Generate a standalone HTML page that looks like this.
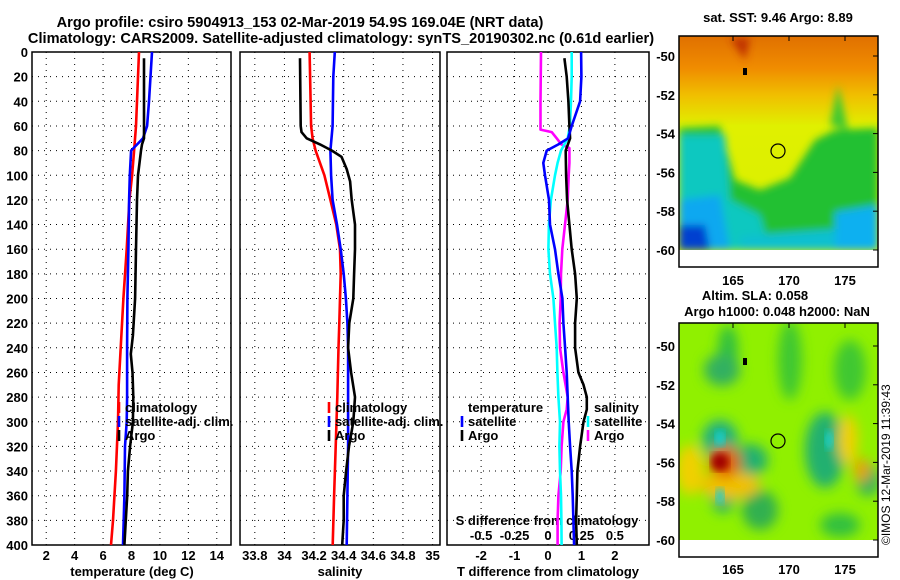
<!DOCTYPE html>
<html><head><meta charset="utf-8">
<style>
html,body{margin:0;padding:0;background:#fff;}
svg{display:block;font-family:"Liberation Sans",sans-serif;font-weight:bold;}
</style></head>
<body>
<svg id="c" width="900" height="580" viewBox="0 0 900 580" xmlns="http://www.w3.org/2000/svg">
<defs>
<filter id="blur4"><feGaussianBlur stdDeviation="4"/></filter>
<filter id="blur6"><feGaussianBlur stdDeviation="6"/></filter>
<clipPath id="clip1"><rect x="679" y="36" width="199" height="214"/></clipPath>
<clipPath id="clip2"><rect x="679" y="323" width="199" height="217"/></clipPath>
<linearGradient id="sstTop" x1="0" y1="0" x2="0" y2="1">
<stop offset="0" stop-color="#e07000"/><stop offset="0.15" stop-color="#f08c00"/><stop offset="0.28" stop-color="#f0c000"/><stop offset="0.42" stop-color="#e0f000"/><stop offset="1" stop-color="#d8f000"/>
</linearGradient>
</defs>
<text x="300" y="27" font-size="14.6" text-anchor="middle">Argo profile: csiro 5904913_153 02-Mar-2019 54.9S 169.04E (NRT data)</text>
<text x="341" y="43" font-size="14.6" text-anchor="middle">Climatology: CARS2009. Satellite-adjusted climatology: synTS_20190302.nc (0.61d earlier)</text>

<!-- SST map -->
<g clip-path="url(#clip1)">
<rect x="679" y="36" width="199" height="214" fill="url(#sstTop)"/>
<g filter="url(#blur4)">
<path d="M679,128 L720,126 L735,180 L760,190 L790,178 L815,140 L835,130 L878,128 L878,250 L679,250Z" fill="#20c030"/>
<path d="M830,125 L838,85 L848,130Z" fill="#40c830"/>
<path d="M679,135 L725,135 L730,200 L760,215 L770,250 L679,250Z" fill="#10c8c0"/>
<path d="M679,200 L720,195 L730,250 L679,250Z" fill="#10a8f0"/>
<path d="M679,225 L705,225 L710,250 L679,250Z" fill="#0040d0"/>
<path d="M740,236 L878,226 L878,250 L740,250Z" fill="#10c0d0"/>
<path d="M835,212 L878,205 L878,250 L835,250Z" fill="#10b0f0"/>
<path d="M730,38 L750,38 L745,60Z" fill="#c03000"/>
</g>
</g>
<rect x="679" y="36" width="199" height="231" fill="none" stroke="#000" stroke-width="1.5"/>
<circle cx="778" cy="151" r="7" fill="none" stroke="#000" stroke-width="1.2"/>
<rect x="743" y="68" width="4" height="7" fill="#000"/>
<text x="778" y="22" font-size="13" text-anchor="middle">sat. SST: 9.46 Argo: 8.89</text>

<!-- SLA map -->
<g clip-path="url(#clip2)">
<rect x="679" y="323" width="199" height="217" fill="#90f000"/>
<g filter="url(#blur6)">
<ellipse cx="728" cy="350" rx="10" ry="25" fill="#30c040"/>
<ellipse cx="722" cy="370" rx="18" ry="16" fill="#30b060"/>
<ellipse cx="790" cy="360" rx="12" ry="40" fill="#40c830"/>
<ellipse cx="850" cy="370" rx="16" ry="30" fill="#40c830"/>
<ellipse cx="720" cy="440" rx="18" ry="20" fill="#20b080"/>
<ellipse cx="750" cy="460" rx="18" ry="16" fill="#20b070"/>
<ellipse cx="825" cy="450" rx="20" ry="38" fill="#20b070"/>
<ellipse cx="868" cy="480" rx="12" ry="16" fill="#30b060"/>
<ellipse cx="723" cy="495" rx="12" ry="18" fill="#20b070"/>
<ellipse cx="760" cy="510" rx="18" ry="20" fill="#30b050"/>
<ellipse cx="840" cy="525" rx="20" ry="12" fill="#30c040"/>
<ellipse cx="690" cy="470" rx="14" ry="25" fill="#f0d000"/>
<ellipse cx="730" cy="485" rx="30" ry="14" fill="#f0c000"/>
<ellipse cx="848" cy="440" rx="10" ry="25" fill="#f0d000"/>
<ellipse cx="862" cy="470" rx="8" ry="12" fill="#e8a000"/>
<ellipse cx="725" cy="462" rx="16" ry="16" fill="#e06000"/>
</g>
<ellipse cx="720" cy="462" rx="9" ry="9" fill="#a00000" filter="url(#blur4)"/>
<ellipse cx="720" cy="438" rx="5" ry="8" fill="#10d0d0" filter="url(#blur4)"/>
<ellipse cx="829" cy="440" rx="4" ry="10" fill="#10d0d0" filter="url(#blur4)"/>
<ellipse cx="720" cy="496" rx="4" ry="8" fill="#10d0d0" filter="url(#blur4)"/>
</g>
<rect x="679" y="323" width="199" height="234" fill="none" stroke="#000" stroke-width="1.5"/>
<circle cx="778" cy="441" r="7" fill="none" stroke="#000" stroke-width="1.2"/>
<rect x="743" y="358" width="4" height="7" fill="#000"/>
<text x="755" y="300" font-size="13" text-anchor="middle">Altim. SLA: 0.058</text>
<text x="777" y="316" font-size="13" text-anchor="middle">Argo h1000: 0.048 h2000: NaN</text>
<text transform="translate(890,545) rotate(-90)" font-size="12" font-weight="normal">©IMOS 12-Mar-2019 11:39:43</text>
</svg>
<script>
// ---- chart data ----
const depthTicks = [0,20,40,60,80,100,120,140,160,180,200,220,240,260,280,300,320,340,360,380,400];
const tempTicks = [2,4,6,8,10,12,14];
const salTicks = [33.8,34,34.2,34.4,34.6,34.8,35];
const salTickLabels = ["33.8","34","34.2","34.4","34.6","34.8","35"];
const tdiffTicks = [-2,-1,0,1,2];
const sdiffTicks = [-0.5,-0.25,0,0.25,0.5];
const sdiffTickLabels = ["-0.5","-0.25","0","0.25","0.5"];

const tClimDepth = [0,60,80,100,120,160,200,240,270,300,340,380,400];
const tClim      = [8.53,8.32,8.18,8.04,7.85,7.66,7.43,7.24,7.1,7.05,6.9,6.7,6.56];
const tSatDepth = [0,20,40,60,70,80,100,120,160,200,240,280,300,320,360,400];
const tSat      = [9.44,9.34,9.23,9.1,8.81,7.97,7.88,7.83,7.78,7.71,7.69,7.69,7.66,7.54,7.5,7.4];
const tArgoDepth = [5,60,70,75,80,100,120,160,200,230,245,260,280,300,320,340,360,380,400];
const tArgo      = [8.88,8.88,8.88,8.74,8.67,8.46,8.39,8.32,8.25,8.1,7.95,8.07,8.13,8.1,7.9,7.75,7.7,7.6,7.5];

const sClimDepth = [0,60,70,80,100,120,140,160,180,200,220,240,280,320,360,400];
const sClim      = [34.17,34.18,34.19,34.21,34.27,34.31,34.35,34.375,34.38,34.375,34.37,34.365,34.357,34.346,34.335,34.326];
const sSatDepth = [0,20,60,80,100,120,140,160,180,200,220,240,280,320,400];
const sSat      = [34.34,34.33,34.325,34.31,34.315,34.325,34.355,34.38,34.4,34.415,34.425,34.43,34.43,34.43,34.42];
const sArgoDepth = [5,60,65,70,75,80,85,95,105,120,140,160,180,200,220,240,260,280,300,320,340,360,380,400];
const sArgo      = [34.105,34.11,34.115,34.15,34.24,34.32,34.385,34.42,34.443,34.454,34.476,34.476,34.47,34.465,34.438,34.43,34.45,34.476,34.465,34.436,34.416,34.4,34.4,34.39];

const dTSatDepth = [0,20,40,60,70,75,80,90,100,120,140,160,180,200,220,240,260,280,300,320,340,360,380,400];
const dTSat      = [0.99,1.0,0.96,0.71,0.6,0.31,-0.04,-0.14,-0.09,0.03,0.06,0.21,0.31,0.43,0.46,0.51,0.56,0.59,0.62,0.66,0.71,0.74,0.76,0.78];
const dTArgoDepth = [5,20,40,60,70,80,100,120,140,160,180,200,220,240,260,270,280,290,300,320,340,360,380,400];
const dTArgo      = [0.49,0.56,0.61,0.64,0.66,0.53,0.54,0.57,0.64,0.71,0.81,0.86,0.81,0.81,0.91,1.06,1.16,1.16,1.06,0.96,0.88,0.86,0.84,0.86];
const dSArgoDepth = [0,40,63,65,70,75,78,90,100,120,140,160,180,200,220,240,260,280,290,300,320,340,360,380,400];
const dSArgo      = [-0.052,-0.056,-0.056,0.028,0.065,0.1,0.16,0.16,0.155,0.147,0.127,0.107,0.097,0.095,0.087,0.09,0.115,0.147,0.14,0.115,0.102,0.095,0.078,0.072,0.072];
const dSSatDepth = [0,20,40,60,70,80,90,100,120,140,160,180,200,220,240,260,280,300,320,340,360,380,400];
const dSSat      = [0.177,0.177,0.172,0.164,0.147,0.097,0.072,0.052,0.022,0.007,0.003,0.015,0.04,0.052,0.065,0.07,0.078,0.09,0.085,0.09,0.097,0.1,0.102];

const mapLatTicks = [-50,-52,-54,-56,-58,-60];
const mapLonTicks = [165,170,175];

// ---- drawing ----
const svg = document.getElementById('c');
const NS = 'http://www.w3.org/2000/svg';
function el(tag, attrs, parent){ const e=document.createElementNS(NS,tag); for(const k in attrs) e.setAttribute(k,attrs[k]); (parent||svg).appendChild(e); return e; }
const top0=52, bot=545;
const yD = d => top0 + d*(bot-top0)/400;
function lin(d0,d1,r0,r1){ return v => r0 + (v-d0)*(r1-r0)/(d1-d0); }

const panels = [
  {name:'temperature', x0:32, x1:231, dom:[1,15]},
  {name:'salinity', x0:240, x1:440, dom:[33.7,35.05]},
  {name:'difference', x0:447, x1:649, dom:[-3.02,3.02]}
];
panels.forEach(p=>{ p.sx = lin(p.dom[0],p.dom[1],p.x0,p.x1); });
const sxS = lin(-0.755,0.755,447,649);

function grid(p, ticks){
  depthTicks.forEach(d=>{
    if(d===0||d===400) return;
    const g=el('line',{x1:p.x0,x2:p.x1,y1:yD(d),y2:yD(d),stroke:'#000','stroke-width':1,'stroke-dasharray':'1,5'});
    
    
  });
  ticks.forEach(t=>{
    const x=p.sx(t);
    const g=el('line',{x1:x,x2:x,y1:top0,y2:bot,stroke:'#000','stroke-width':1,'stroke-dasharray':'1,5'});
    
    
  });
  const f=el('rect',{x:p.x0,y:top0,width:p.x1-p.x0,height:bot-top0,fill:'none',stroke:'#000','stroke-width':1.5});
  
  
}
grid(panels[0], tempTicks);
grid(panels[1], salTicks);
grid(panels[2], tdiffTicks);

depthTicks.forEach(d=>{
  const t=el('text',{x:28,y:yD(d)+5,'font-size':13,'text-anchor':'end'});
  t.textContent=d;
  
  
});
tempTicks.forEach(v=>{
  const t=el('text',{x:panels[0].sx(v),y:560,'font-size':13,'text-anchor':'middle'});
  t.textContent=v;
  
  
});
salTicks.forEach((v,i)=>{
  const t=el('text',{x:panels[1].sx(v),y:560,'font-size':13,'text-anchor':'middle'});
  t.textContent=salTickLabels[i];
  
  
});
tdiffTicks.forEach(v=>{
  const t=el('text',{x:panels[2].sx(v),y:560,'font-size':13,'text-anchor':'middle'});
  t.textContent=v;
  
  
});
sdiffTicks.forEach((v,i)=>{
  const t=el('text',{x:sxS(v),y:540,'font-size':13,'text-anchor':'middle'});
  t.textContent=sdiffTickLabels[i];
  
  
});
[['temperature (deg C)',132,'temperature-axis-title'],['salinity',340,'salinity-axis-title'],['T difference from climatology',548,'tdiff-axis-title']].forEach(a=>{
  const t=el('text',{x:a[1],y:576,'font-size':13,'text-anchor':'middle'});
  t.textContent=a[0];
  
  
});
{
  const t=el('text',{x:547,y:525,'font-size':13,'text-anchor':'middle'});
  t.textContent='S difference from climatology';
  
  
}

function series(depths, vals, sx, color, name){
  const pts = depths.map((d,i)=> sx(vals[i]).toFixed(1)+','+yD(d).toFixed(1)).join(' ');
  const l=el('polyline',{points:pts,fill:'none',stroke:color,'stroke-width':2.6,'stroke-linejoin':'round'});
  
  
}
series(tClimDepth,tClim,panels[0].sx,'#f00','temperature-climatology-line');
series(tSatDepth,tSat,panels[0].sx,'#00f','temperature-satellite-line');
series(tArgoDepth,tArgo,panels[0].sx,'#000','temperature-argo-line');
series(sClimDepth,sClim,panels[1].sx,'#f00','salinity-climatology-line');
series(sSatDepth,sSat,panels[1].sx,'#00f','salinity-satellite-line');
series(sArgoDepth,sArgo,panels[1].sx,'#000','salinity-argo-line');
series(dSArgoDepth,dSArgo,sxS,'#f0f','sdiff-argo-line');
series(dSSatDepth,dSSat,sxS,'#0ff','sdiff-satellite-line');
series(dTArgoDepth,dTArgo,panels[2].sx,'#000','tdiff-argo-line');
series(dTSatDepth,dTSat,panels[2].sx,'#00f','tdiff-satellite-line');

function legend(x, y, items, name, header){
  let yy=y;
  if(header){
    const h=el('text',{x:x,y:yy,'font-size':13});
    h.textContent=header;
    
    
    yy+=14;
  }
  items.forEach(it=>{
    const m=el('line',{x1:x-6,x2:x-6,y1:yy-10,y2:yy+1,stroke:it[1],'stroke-width':2.6});
    
    
    const t=el('text',{x:x,y:yy,'font-size':13});
    t.textContent=it[0];
    
    
    yy+=14;
  });
}
legend(125,412,[['climatology','#f00'],['satellite-adj. clim.','#00f'],['Argo','#000']],'temperature-legend');
legend(335,412,[['climatology','#f00'],['satellite-adj. clim.','#00f'],['Argo','#000']],'salinity-legend');
legend(468,412,[['satellite','#00f'],['Argo','#000']],'tdiff-legend','temperature');
legend(594,412,[['satellite','#0ff'],['Argo','#f0f']],'sdiff-legend','salinity');

function mapAxes(yTop, lat50, lat60, lonY, name){
  const sy=lin(-50,-60,lat50,lat60), sx=lin(165,175,733,845);
  mapLatTicks.forEach(v=>{
    const t=el('text',{x:675,y:sy(v)+5,'font-size':13,'text-anchor':'end'});
    t.textContent=v;
    
    
    const k=el('line',{x1:878,x2:873,y1:sy(v),y2:sy(v),stroke:'#000'});
    
    
  });
  mapLonTicks.forEach(v=>{
    const t=el('text',{x:sx(v),y:lonY,'font-size':13,'text-anchor':'middle'});
    t.textContent=v;
    
    
    const k=el('line',{x1:sx(v),x2:sx(v),y1:yTop,y2:yTop+5,stroke:'#000'});
    
    
  });
}
mapAxes(36,56,250,285,'sst-map');
mapAxes(323,346,540,574,'sla-map');
</script>
</body></html>
